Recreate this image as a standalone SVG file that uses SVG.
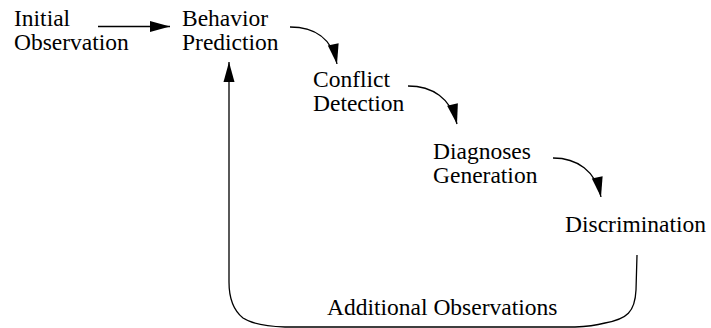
<svg xmlns="http://www.w3.org/2000/svg" width="711" height="328" viewBox="0 0 711 328">
<style>
text{font-family:"Liberation Serif","Times New Roman",serif;font-size:23.5px;fill:#000}
.c{fill:none;stroke:#000;stroke-width:1.3}
</style>
<defs>
<marker id="ah" markerUnits="userSpaceOnUse" markerWidth="21" markerHeight="11" refX="20" refY="5.5" orient="auto" overflow="visible">
<path d="M0,0 L20,5.5 L0,11 z" fill="#000"/>
</marker>
</defs>
<g id="n1"><text x="14" y="26">Initial</text><text x="14" y="50">Observation</text></g>
<g id="n2"><text x="182" y="26">Behavior</text><text x="182" y="50">Prediction</text></g>
<g id="n3"><text x="313" y="87">Conflict</text><text x="313" y="111">Detection</text></g>
<g id="n4"><text x="433" y="159">Diagnoses</text><text x="433" y="183">Generation</text></g>
<g id="n5"><text x="565" y="232">Discrimination</text></g>
<g id="connectors">
<path class="c" d="M98,26.5 L170,26.5" marker-end="url(#ah)"/>
<path class="c" d="M290,27 C314,27 332,38 337,64" marker-end="url(#ah)"/>
<path class="c" d="M408,86 C432,86 451,98 457,124" marker-end="url(#ah)"/>
<path class="c" d="M553,158 C577,158 596,171 601,197" marker-end="url(#ah)"/>
<path class="c" d="M637,255 L636,290 C635,312 627,319 605,323 Q592,326.5 575,327 L285,327 Q255,326 243,318 C233,310 229,298 229,282 L229,62" marker-end="url(#ah)"/>
<text x="327" y="315">Additional Observations</text>
</g>
</svg>
